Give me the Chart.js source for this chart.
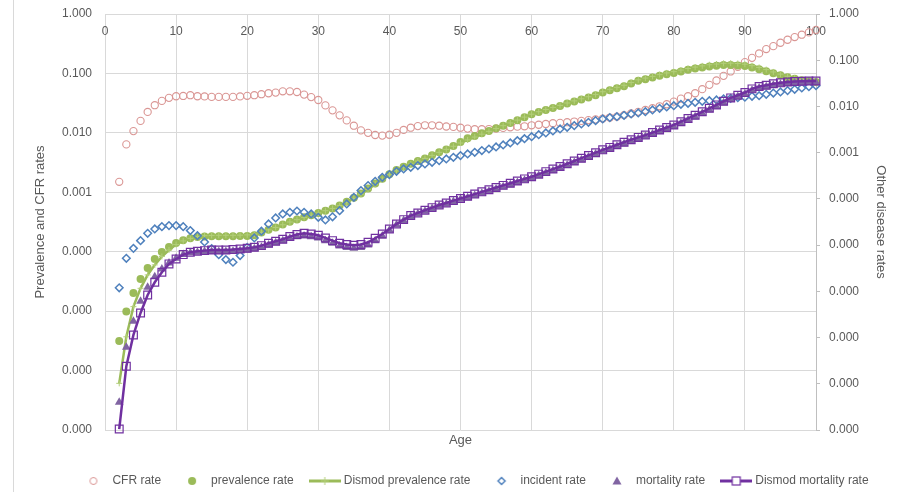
<!DOCTYPE html>
<html>
<head>
<meta charset="utf-8">
<script src="https://cdn.jsdelivr.net/npm/chart.js@4.4.1/dist/chart.umd.min.js"></script>
<style>
  html, body { margin: 0; padding: 0; background: #fff; }
  #wrap { position: relative; width: 917px; height: 492px; }
  #wrap:before { content: ''; position: absolute; left: 13px; top: 0; bottom: 0; border-left: 1px solid #d9d9d9; }
</style>
</head>
<body>
<div id="wrap"><canvas id="c" width="917" height="492"></canvas></div>
<script>
/* Age-specific rates: observed vs Dismod fit */

// ── data ─────────────────────────────────────────────────────────
const ages = [2,3,4,5,6,7,8,9,10,11,12,13,14,15,16,17,18,19,20,21,22,23,24,25,26,27,28,29,30,
  31,32,33,34,35,36,37,38,39,40,41,42,43,44,45,46,47,48,49,50,51,52,53,54,55,56,57,58,59,60,
  61,62,63,64,65,66,67,68,69,70,71,72,73,74,75,76,77,78,79,80,81,82,83,84,85,86,87,88,89,90,
  91,92,93,94,95,96,97,98,99,100];

// left axis
const cfrRate = [1.5e-3,6.4e-3,0.0107,0.0159,0.0225,0.0292,0.0345,0.0388,0.0413,0.0418,0.043,0.0413,0.041,
  0.0403,0.0403,0.0403,0.0403,0.041,0.042,0.043,0.0447,0.0464,0.0476,0.050,0.050,0.0487,0.044,0.040,0.0357,
  0.029,0.0239,0.0197,0.0162,0.0132,0.011,0.010,0.0092,0.0090,0.0093,0.010,0.0112,0.0122,0.013,0.0134,0.0134,
  0.0132,0.0128,0.0126,0.0122,0.0118,0.0115,0.0115,0.0116,0.0118,0.0121,0.0124,0.0127,0.0129,0.0134,0.0137,
  0.0141,0.0145,0.0147,0.0151,0.0155,0.0159,0.0164,0.0168,0.0174,0.0181,0.0188,0.0199,0.0212,0.0226,0.0243,
  0.026,0.028,0.0303,0.0336,0.0376,0.0413,0.0464,0.0543,0.0642,0.076,0.091,0.108,0.129,0.155,0.183,0.217,
  0.257,0.288,0.328,0.369,0.409,0.448,0.49,0.54];

const prevalenceRate = [3.16e-6,9.9e-6,2.01e-5,3.47e-5,5.32e-5,7.54e-5,9.9e-5,1.2e-4,1.4e-4,1.56e-4,1.68e-4,
  1.76e-4,1.8e-4,1.82e-4,1.82e-4,1.82e-4,1.82e-4,1.83e-4,1.84e-4,1.9e-4,2.1e-4,2.35e-4,2.56e-4,2.86e-4,3.18e-4,
  3.48e-4,3.8e-4,4.11e-4,4.5e-4,4.87e-4,5.33e-4,5.99e-4,6.9e-4,8.07e-4,9.55e-4,1.16e-3,1.41e-3,1.69e-3,2.02e-3,
  2.36e-3,2.69e-3,3.02e-3,3.35e-3,3.72e-3,4.18e-3,4.7e-3,5.27e-3,6.0e-3,7.0e-3,8.09e-3,8.86e-3,9.82e-3,0.0107,
  0.0119,0.0132,0.0147,0.0163,0.0183,0.0205,0.0225,0.0243,0.0263,0.0284,0.0311,0.0336,0.0363,0.0393,0.043,
  0.0477,0.0522,0.0564,0.061,0.0676,0.075,0.080,0.0854,0.0912,0.0972,0.102,0.108,0.115,0.121,0.126,0.131,
  0.134,0.138,0.138,0.136,0.133,0.126,0.118,0.109,0.101,0.0935,0.0865,0.0811,0.077,0.0745,0.072];

const dismodPrevalence = [6.1e-7,3.7e-6,1.19e-5,2.42e-5,4.07e-5,6.0e-5,8.3e-5,1.07e-4,1.32e-4,1.52e-4,1.68e-4,
  1.8e-4,1.86e-4,1.88e-4,1.89e-4,1.89e-4,1.89e-4,1.9e-4,1.92e-4,1.98e-4,2.12e-4,2.33e-4,2.56e-4,2.84e-4,3.16e-4,
  3.46e-4,3.78e-4,4.1e-4,4.5e-4,4.9e-4,5.35e-4,5.95e-4,6.8e-4,7.9e-4,9.3e-4,1.12e-3,1.36e-3,1.64e-3,1.96e-3,
  2.3e-3,2.65e-3,3.0e-3,3.35e-3,3.72e-3,4.18e-3,4.7e-3,5.27e-3,5.95e-3,6.75e-3,7.6e-3,8.5e-3,9.5e-3,0.0106,
  0.0118,0.0132,0.0147,0.0164,0.0184,0.0206,0.0227,0.0247,0.0268,0.029,0.0318,0.0345,0.0374,0.0405,0.0443,
  0.0492,0.054,0.0584,0.0633,0.0702,0.078,0.0836,0.0893,0.0955,0.102,0.107,0.114,0.121,0.128,0.134,0.14,
  0.144,0.148,0.149,0.147,0.143,0.135,0.126,0.116,0.106,0.0975,0.0895,0.0835,0.079,0.0752,0.072];

// right axis
const incidentRate = [1.19e-6,5.19e-6,8.5e-6,1.25e-5,1.8e-5,2.24e-5,2.51e-5,2.64e-5,2.64e-5,2.51e-5,2.06e-5,
  1.6e-5,1.17e-5,8.4e-6,6.2e-6,4.86e-6,4.26e-6,5.93e-6,8.97e-6,1.43e-5,2.0e-5,2.87e-5,3.87e-5,4.72e-5,5.13e-5,
  5.47e-5,5.13e-5,4.72e-5,4.0e-5,3.5e-5,4.1e-5,5.57e-5,7.77e-5,1.08e-4,1.51e-4,1.94e-4,2.4e-4,2.93e-4,3.35e-4,
  3.95e-4,4.44e-4,4.82e-4,5.25e-4,5.7e-4,6.19e-4,6.73e-4,7.31e-4,7.94e-4,8.63e-4,9.37e-4,1.02e-3,1.11e-3,1.2e-3,
  1.33e-3,1.47e-3,1.62e-3,1.82e-3,2.01e-3,2.22e-3,2.45e-3,2.67e-3,2.95e-3,3.26e-3,3.54e-3,3.85e-3,4.18e-3,
  4.54e-3,4.93e-3,5.36e-3,5.73e-3,6.01e-3,6.43e-3,6.87e-3,7.22e-3,7.71e-3,8.39e-3,9.12e-3,9.73e-3,0.0104,
  0.0111,0.0117,0.0123,0.0129,0.0133,0.0138,0.0145,0.015,0.0155,0.0158,0.0166,0.0171,0.0183,0.0195,0.0206,
  0.022,0.0235,0.0251,0.0268,0.0282];

const mortalityRate = [4e-9,6.2e-8,2.25e-7,6.1e-7,1.22e-6,2.08e-6,3.05e-6,4.11e-6,5.19e-6,6.23e-6,6.8e-6,7.0e-6,
  7.24e-6,7.3e-6,7.3e-6,7.3e-6,7.4e-6,7.6e-6,7.86e-6,8.3e-6,8.98e-6,1.0e-5,1.13e-5,1.25e-5,1.4e-5,1.52e-5,
  1.58e-5,1.52e-5,1.42e-5,1.25e-5,1.1e-5,9.6e-6,8.9e-6,8.6e-6,8.9e-6,1.0e-5,1.25e-5,1.58e-5,2.1e-5,2.75e-5,
  3.4e-5,4.15e-5,4.75e-5,5.4e-5,6.2e-5,7.05e-5,7.8e-5,8.8e-5,9.8e-5,1.06e-4,1.18e-4,1.32e-4,1.47e-4,1.64e-4,
  1.82e-4,2.03e-4,2.26e-4,2.52e-4,2.81e-4,3.19e-4,3.62e-4,4.11e-4,4.66e-4,5.35e-4,6.15e-4,7.06e-4,8.1e-4,
  9.3e-4,1.07e-3,1.21e-3,1.38e-3,1.56e-3,1.78e-3,1.99e-3,2.23e-3,2.53e-3,2.87e-3,3.26e-3,3.7e-3,4.35e-3,
  5.12e-3,6.01e-3,7.13e-3,8.48e-3,0.010,0.012,0.0142,0.0165,0.0186,0.0223,0.025,0.0268,0.0287,0.0301,0.0315,
  0.0323,0.0326,0.033,0.033];

const dismodMortality = [1.05e-9,2.4e-8,1.14e-7,3.41e-7,8.36e-7,1.57e-6,2.58e-6,3.92e-6,5.0e-6,6.23e-6,7.0e-6,
  7.36e-6,7.6e-6,7.86e-6,7.86e-6,7.86e-6,8.0e-6,8.26e-6,8.55e-6,8.98e-6,9.75e-6,1.1e-5,1.21e-5,1.34e-5,1.53e-5,
  1.69e-5,1.8e-5,1.74e-5,1.63e-5,1.43e-5,1.25e-5,1.1e-5,1.03e-5,9.91e-6,1.03e-5,1.15e-5,1.41e-5,1.74e-5,2.24e-5,
  2.87e-5,3.56e-5,4.35e-5,4.97e-5,5.67e-5,6.47e-5,7.39e-5,8.17e-5,9.18e-5,1.02e-4,1.14e-4,1.27e-4,1.42e-4,
  1.58e-4,1.76e-4,1.96e-4,2.18e-4,2.43e-4,2.71e-4,3.02e-4,3.43e-4,3.89e-4,4.42e-4,5.01e-4,5.75e-4,6.61e-4,
  7.59e-4,8.71e-4,1.0e-3,1.15e-3,1.3e-3,1.48e-3,1.68e-3,1.91e-3,2.14e-3,2.4e-3,2.72e-3,3.09e-3,3.51e-3,3.98e-3,
  4.68e-3,5.5e-3,6.46e-3,7.67e-3,9.12e-3,0.0108,0.0129,0.0153,0.0175,0.020,0.024,0.0269,0.0288,0.0309,0.0324,
  0.0339,0.0347,0.0351,0.0355,0.0355];

const ageTicks   = [0, 10, 20, 30, 40, 50, 60, 70, 80, 90, 100];
const leftTicks  = [1, 0.1, 0.01, 0.001, 1e-4, 1e-5, 1e-6, 1e-7];
const rightTicks = [1, 0.1, 0.01, 0.001, 1e-4, 1e-5, 1e-6, 1e-7, 1e-8, 1e-9];

// ── styling ──────────────────────────────────────────────────────
const TXT  = '#595959';
const GRID = '#d9d9d9';
const C = {
  cfr: '#da9694', prev: '#9bbb59', prevLine: '#9bbb59', prevMark: '#b3cf7a',
  inc: '#4f81bd', mort: '#8064a2', mortLine: '#7030a0',
};

Chart.defaults.font.family = "'Liberation Sans', Arial, sans-serif";
Chart.defaults.font.size = 12;
Chart.defaults.color = TXT;

const pts = vals => ages.map((a, i) => ({x: a, y: vals[i]}));
const fmt3 = v => Number(v).toFixed(3);

// legend swatches (marker centred in a 32px box, like Excel)
function swatch(draw) {
  const cv = document.createElement('canvas');
  cv.width = 32; cv.height = 12;
  draw(cv.getContext('2d'));
  return cv;
}
const icons = [
  swatch(g => { g.strokeStyle = C.cfr; g.lineWidth = 1; g.beginPath(); g.arc(16, 6, 3.5, 0, 2 * Math.PI); g.stroke(); }),
  swatch(g => { g.fillStyle = C.prev; g.beginPath(); g.arc(16, 6, 4, 0, 2 * Math.PI); g.fill(); }),
  swatch(g => {
    g.strokeStyle = C.prevLine; g.lineWidth = 3; g.beginPath(); g.moveTo(0, 6); g.lineTo(32, 6); g.stroke();
    g.strokeStyle = C.prevMark; g.lineWidth = 1; g.beginPath(); g.moveTo(16, 2); g.lineTo(16, 10); g.moveTo(12, 6); g.lineTo(20, 6); g.stroke();
  }),
  swatch(g => { g.strokeStyle = C.inc; g.lineWidth = 1.5; g.beginPath(); g.moveTo(16, 2.5); g.lineTo(19.5, 6); g.lineTo(16, 9.5); g.lineTo(12.5, 6); g.closePath(); g.stroke(); }),
  swatch(g => { g.fillStyle = C.mort; g.beginPath(); g.moveTo(16, 1.5); g.lineTo(20.5, 9.5); g.lineTo(11.5, 9.5); g.closePath(); g.fill(); }),
  swatch(g => {
    g.strokeStyle = C.mortLine; g.lineWidth = 3; g.beginPath(); g.moveTo(0, 6); g.lineTo(32, 6); g.stroke();
    g.fillStyle = '#fff'; g.fillRect(12, 2, 8, 8);
    g.lineWidth = 1.2; g.strokeRect(12, 2, 8, 8);
  }),
];

// nudge the legend to where Excel put it
const legendNudge = {
  id: 'legendNudge',
  afterLayout(chart) {
    const lg = chart.legend;
    lg.left += 16; lg.right += 16;
    lg.top += 5; lg.bottom += 5;
  },
};

// tick padding would otherwise push the plot top down
const trimPad = s => { s.paddingTop = 7; s.paddingBottom = 7; };

const base = {showLine: false, clip: false, pointHoverRadius: 5};

new Chart(document.getElementById('c'), {
  type: 'line',
  data: {
    datasets: [
      {...base, label: 'CFR rate', data: pts(cfrRate), yAxisID: 'y', order: 6,
        pointStyle: 'circle', pointRadius: 3.6, pointBorderWidth: 1.1,
        pointBorderColor: C.cfr, pointBackgroundColor: 'rgba(255,255,255,0)', borderColor: C.cfr},
      {...base, label: 'prevalence rate', data: pts(prevalenceRate), yAxisID: 'y', order: 5,
        pointStyle: 'circle', pointRadius: 4, pointBorderWidth: 0,
        pointBackgroundColor: C.prev, borderColor: C.prev},
      {...base, label: 'Dismod prevalence rate', data: pts(dismodPrevalence), yAxisID: 'y', order: 4,
        showLine: true, borderColor: C.prevLine, borderWidth: 2.5, tension: 0,
        pointStyle: 'cross', pointRadius: 3, pointBorderWidth: 1, pointBorderColor: C.prevMark},
      {...base, label: 'incident rate', data: pts(incidentRate), yAxisID: 'y2', order: 3,
        pointStyle: 'rectRot', pointRadius: 3.8, pointBorderWidth: 1.5,
        pointBorderColor: C.inc, pointBackgroundColor: 'rgba(255,255,255,0)', borderColor: C.inc},
      {...base, label: 'mortality rate', data: pts(mortalityRate), yAxisID: 'y2', order: 2,
        pointStyle: 'triangle', pointRadius: 5, pointBorderWidth: 0,
        pointBackgroundColor: C.mort, borderColor: C.mort},
      {...base, label: 'Dismod mortality rate', data: pts(dismodMortality), yAxisID: 'y2', order: 1,
        showLine: true, borderColor: C.mortLine, borderWidth: 2.5, tension: 0,
        pointStyle: 'rect', pointRadius: 5.5, pointBorderWidth: 1.2,
        pointBorderColor: C.mortLine, pointBackgroundColor: 'rgba(255,255,255,0)'},
    ],
  },
  options: {
    responsive: false, devicePixelRatio: 1, animation: false,
    layout: {padding: 0},
    plugins: {
      tooltip: {enabled: false},
      legend: {
        position: 'bottom',
        labels: {
          usePointStyle: true, pointStyleWidth: 26, padding: 18, color: TXT, font: {size: 12},
          sort: (a, b) => a.datasetIndex - b.datasetIndex,
          generateLabels: chart =>
            Chart.defaults.plugins.legend.labels.generateLabels(chart)
              .map(l => ({...l, pointStyle: icons[l.datasetIndex]})),
        },
      },
    },
    scales: {
      x: {
        type: 'linear', position: 'bottom', min: 0, max: 100,
        afterBuildTicks: s => { s.ticks = ageTicks.map(v => ({value: v})); },
        afterFit: s => { s.height = 22; },
        ticks: {display: false},
        grid: {color: GRID, drawTicks: false},
        border: {display: false},
        title: {display: true, text: 'Age', color: TXT, font: {size: 13}, padding: {top: 0, bottom: 4}},
      },
      x2: {
        type: 'linear', position: 'top', min: 0, max: 100,
        afterBuildTicks: s => { s.ticks = ageTicks.map(v => ({value: v})); },
        afterFit: s => { s.height = 14; },
        ticks: {mirror: true, padding: 10, color: TXT, maxRotation: 0, autoSkip: false},
        grid: {display: false, drawTicks: false},
        border: {display: true, color: GRID},
      },
      y: {
        type: 'logarithmic', position: 'left', min: 1e-7, max: 1,
        afterBuildTicks: s => { s.ticks = leftTicks.map(v => ({value: v})); },
        afterFit: s => { s.width = 105; trimPad(s); },
        ticks: {callback: fmt3, padding: 13, color: TXT},
        grid: {color: GRID, drawTicks: false},
        border: {display: false},
        title: {display: true, text: 'Prevalence and CFR rates', color: TXT, font: {size: 13}, padding: {top: 33, bottom: 0}},
      },
      y2: {
        type: 'logarithmic', position: 'right', min: 1e-9, max: 1,
        afterBuildTicks: s => { s.ticks = rightTicks.map(v => ({value: v})); },
        afterFit: s => { s.width = 101; trimPad(s); },
        ticks: {callback: fmt3, padding: 9, color: TXT},
        grid: {drawOnChartArea: false, color: '#bfbfbf', tickLength: 4},
        border: {display: true, color: '#bfbfbf'},
        title: {display: true, text: 'Other disease rates', color: TXT, font: {size: 13}, padding: {top: 29, bottom: 0}},
      },
    },
  },
  plugins: [legendNudge],
});
</script>
</body>
</html>
